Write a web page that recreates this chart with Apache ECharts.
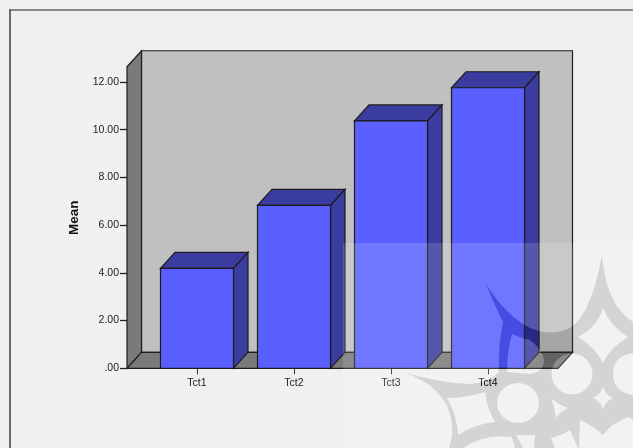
<!DOCTYPE html>
<html>
<head>
<meta charset="utf-8">
<style>html,body{margin:0;padding:0;background:#f0f0f0}#c{width:633px;height:448px}</style>
<script src="https://cdn.jsdelivr.net/npm/echarts@6/dist/echarts.min.js"></script>
</head>
<body>
<div id="c"></div>
<script>
const categories = ['Tct1', 'Tct2', 'Tct3', 'Tct4'];
const means = [4.19, 6.83, 10.37, 11.76];
const yTicks = [0, 2, 4, 6, 8, 10, 12];
const yAxisTitle = 'Mean';
const wallTopValue = 12.64;

const depthX = 14.5, depthY = 16, sideGap = 21.5, barShare = 0.7526;
const outline = '#1c1c1c';
const front = '#5a60ff', shade = '#3a3c9f', wallBack = '#c0c0c0', wallSide = '#7a7a7a';

const watermark =
  'M0 0L0 0M633 448L633 448' +
  'M602 255Q604 285 616 305Q624 316 633 322L633 448L449 448Q456 430 448 408Q436 382 402 372Q440 383 470 384Q490 382 499 372Q498 345 503 322Q494 304 486 284Q505 315 530 328Q555 338 573 326Q592 310 602 255Z' +
  'M603 308Q598 326 578 337Q596 348 603 363Q610 348 628 337Q610 326 603 308Z' +
  'M592.5 374A20.5 20.5 0 1 0 551.5 374A20.5 20.5 0 1 0 592.5 374Z' +
  'M633 353Q613 356 613 374Q613 392 633 395Z' +
  'M603 387Q600 395 593 398Q600 401 603 409Q606 401 613 398Q606 395 603 387Z' +
  'M539 403A21 20 0 1 0 497 403A21 20 0 1 0 539 403Z' +
  'M447 398Q457 415 458 435Q475 424 495 422Q487 408 485 392Q465 398 447 398Z' +
  'M551 398Q555 408 556 418Q561 411 568 408Q559 405 551 398Z' +
  'M580 420L579 448L633 448L633 420L628 417Q612 423 603 435Q594 426 580 420Z' +
  'M551 438L555 448L578 448L570 430Q560 436 551 438Z' +
  'M516 435L523 448L534 448L535 435Z' +
  'M463 448L515 448L512 437Q485 433 463 448Z' +
  'M512 334Q507 350 507 372L530 374Q544 372 544 360Q543 350 530 340Q520 338 512 334Z';

const chart = echarts.init(document.getElementById('c'), null, {renderer: 'canvas'});

function poly(points, fill) {
  return {type: 'polygon', shape: {points}, style: {fill, stroke: outline, lineWidth: 1.2}};
}

function renderWalls(params, api) {
  const cs = params.coordSys;
  const left = cs.x - sideGap, right = cs.x + cs.width + sideGap;
  const y0 = api.coord([0, 0])[1];
  const yTop = api.coord([0, wallTopValue])[1];
  return {type: 'group', children: [
    poly([[left + depthX, yTop - depthY], [right + depthX, yTop - depthY], [right + depthX, y0 - depthY], [left + depthX, y0 - depthY]], wallBack),
    poly([[left, yTop], [left + depthX, yTop - depthY], [left + depthX, y0 - depthY], [left, y0]], wallSide),
    poly([[left, y0], [left + depthX, y0 - depthY], [right + depthX, y0 - depthY], [right, y0]], wallSide)
  ]};
}

function renderBar(params, api) {
  const c = api.coord([api.value(0), api.value(1)]);
  const base = api.coord([api.value(0), 0]);
  const w = api.size([1, 0])[0] * barShare;
  const l = c[0] - w / 2, r = c[0] + w / 2, t = c[1], b = base[1];
  return {type: 'group', children: [
    poly([[l, t], [r, t], [r + depthX, t - depthY], [l + depthX, t - depthY]], shade),
    poly([[r, t], [r + depthX, t - depthY], [r + depthX, b - depthY], [r, b]], shade),
    poly([[l, t], [r, t], [r, b], [l, b]], front)
  ]};
}

function watermarkWith(fill) {
  return () => ({type: 'path', shape: {pathData: watermark, x: 0, y: 0, width: 633, height: 448, layout: 'cover'}, style: {fill}});
}
function renderVeil() {
  return {type: 'rect', shape: {x: 343, y: 243, width: 290, height: 205}, style: {fill: 'rgba(255,255,255,0.14)'}};
}

chart.setOption({
  animation: false,
  backgroundColor: '#f0f0f0',
  textStyle: {fontFamily: '"Liberation Sans", Arial, sans-serif'},
  grid: {left: 148.5, right: 96.5, top: 82, height: 286.3},
  xAxis: {
    type: 'category', data: categories,
    axisLine: {show: false},
    axisTick: {show: true, alignWithLabel: true, length: 6, lineStyle: {color: '#333', width: 1}},
    axisLabel: {color: '#222', fontSize: 10.5, margin: 9},
    splitLine: {show: false}
  },
  yAxis: {
    type: 'value', min: 0, max: 12, interval: 2, offset: sideGap,
    name: yAxisTitle, nameLocation: 'middle', nameGap: 46,
    nameTextStyle: {color: '#111', fontSize: 13.5, fontWeight: 'bold', padding: [0, 0, 0, 15]},
    axisLine: {show: false},
    axisTick: {show: true, length: 7, lineStyle: {color: '#222', width: 1.3}},
    axisLabel: {color: '#222', fontSize: 10.5, margin: 8,
      formatter: v => yTicks.includes(v) ? (v === 0 ? '.00' : v.toFixed(2)) : ''},
    splitLine: {show: false}
  },
  series: [
    {type: 'custom', renderItem: renderWalls, data: [[0, 0]], encode: {x: 0, y: 1}, silent: true, z: 1, clip: false},
    {type: 'custom', renderItem: renderBar, data: means.map((v, i) => [i, v]), encode: {x: 0, y: 1}, silent: true, z: 2, clip: false},
    {type: 'custom', renderItem: watermarkWith('#c8c8c8'), data: [[0, 0]], encode: {x: 0, y: 1}, silent: true, z: 100, clip: false, blendMode: 'color-burn'},
    {type: 'custom', renderItem: watermarkWith('#dedede'), data: [[0, 0]], encode: {x: 0, y: 1}, silent: true, z: 101, clip: false, blendMode: 'multiply'},
    {type: 'custom', renderItem: renderVeil, data: [[0, 0]], encode: {x: 0, y: 1}, silent: true, z: 102, clip: false}
  ],
  graphic: [
    {type: 'line', z: 90, silent: true, shape: {x1: 10, y1: 10, x2: 633, y2: 10}, style: {stroke: '#8a8a8a', lineWidth: 2}},
    {type: 'line', z: 90, silent: true, shape: {x1: 10, y1: 9, x2: 10, y2: 448}, style: {stroke: '#6a6a6a', lineWidth: 2}}
  ]
});
</script>
</body>
</html>
